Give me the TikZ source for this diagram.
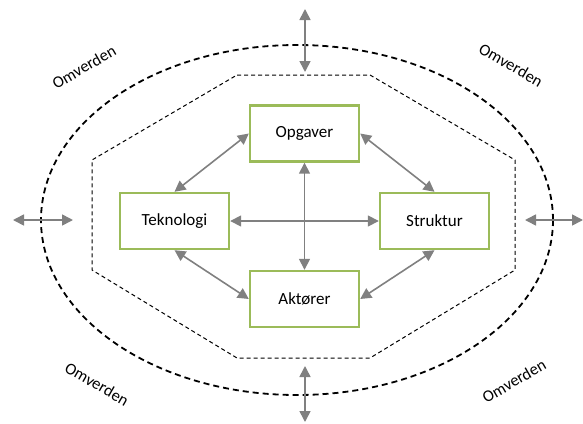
\documentclass[tikz,border=0pt]{standalone}
\usepackage{fontspec}
\setmainfont{Carlito}
\usetikzlibrary{arrows.meta}
\definecolor{boxgreen}{RGB}{155,187,89}
\definecolor{arrgray}{RGB}{128,128,128}
\tikzset{
  box/.style={draw=boxgreen,line width=2.4pt,fill=white,minimum width=109pt,minimum height=56pt,inner sep=0pt,font=\fontsize{17}{20}\selectfont},
  dbl/.style={draw=arrgray,line width=1.6pt,{Triangle[width=11pt,length=11pt]}-{Triangle[width=11pt,length=11pt]}},
  omv/.style={font=\fontsize{16.5}{19}\selectfont,inner sep=0pt}
}
\begin{document}
\begin{tikzpicture}[x=1pt,y=-1pt]
\useasboundingbox (0,0) rectangle (583,423);
% ellipse
\draw[line width=1.8pt,dash pattern=on 6pt off 4pt] (297,220) ellipse [x radius=256, y radius=175];
% octagon
\draw[line width=1pt,dash pattern=on 4pt off 3pt] (237,75) -- (370,75) -- (515,160) -- (515,270) -- (370,358) -- (237,358) -- (92,270) -- (92,160) -- cycle;
% boxes
\node[box] (opg) at (304.5,133.5) {Opgaver};
\node[box] (tek) at (174.5,221) {Teknologi};
\node[box] (str) at (434.5,221) {Struktur};
\node[box] (akt) at (304.5,299) {Aktører};
% inner arrows
\draw[dbl] (opg.west) -- (tek.north);
\draw[dbl] (opg.east) -- (str.north);
\draw[dbl] (tek.south) -- (akt.west);
\draw[dbl] (str.south) -- (akt.east);
\draw[dbl] (tek.east) -- (str.west);
\draw[dbl] (opg.south) -- (akt.north);
% outer arrows
\coordinate (t1) at (305,9); \coordinate (t2) at (305,72);
\coordinate (b1) at (305,366); \coordinate (b2) at (305,422);
\coordinate (l1) at (13,220); \coordinate (l2) at (73,220);
\coordinate (r1) at (525,220); \coordinate (r2) at (583,220);
\draw[dbl] (t1) -- (t2);
\draw[dbl] (b1) -- (b2);
\draw[dbl] (l1) -- (l2);
\draw[dbl] (r1) -- (r2);
% labels
\node[omv,rotate=30] (o1) at (84,67) {Omverden};
\node[omv,rotate=-30] (o2) at (511,65) {Omverden};
\node[omv,rotate=-30] (o3) at (97,384) {Omverden};
\node[omv,rotate=30] (o4) at (514,381) {Omverden};
\end{tikzpicture}
\end{document}
